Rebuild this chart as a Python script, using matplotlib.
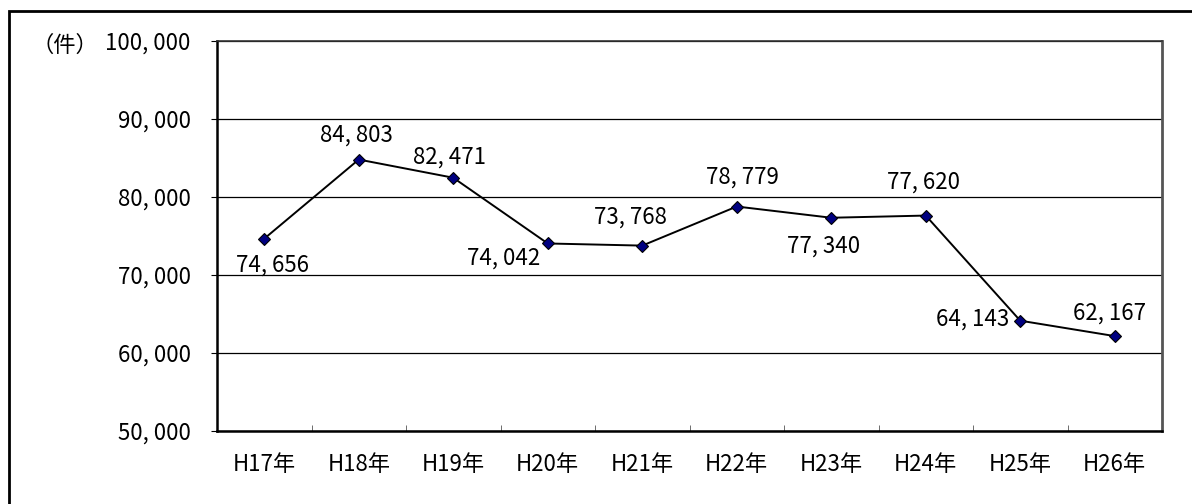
import matplotlib.pyplot as plt
from matplotlib.patches import Rectangle

plt.rcParams['font.family'] = ['Noto Sans CJK JP', 'DejaVu Sans']

# data
years = ['H17年', 'H18年', 'H19年', 'H20年', 'H21年', 'H22年', 'H23年', 'H24年', 'H25年', 'H26年']
counts = [74656, 84803, 82471, 74042, 73768, 78779, 77340, 77620, 64143, 62167]
y_ticks = [50000, 60000, 70000, 80000, 90000, 100000]

# label offsets in pixels (dx, dy up)
label_offsets = [(8, -26), (-2, 24), (-4, 21), (-44, -15), (-12, 29),
                 (6, 29), (-8, -28), (-2, 33), (-48, 2), (-5, 23)]

fig = plt.figure(figsize=(11.92, 5.04), dpi=100)
ax = fig.add_axes([217 / 1192, 1 - 431 / 504, 945 / 1192, 390 / 504])

# outer frame of the chart
fig.patches.append(Rectangle((9 / 1192, -0.1), 1.2, 1 - 11 / 504 + 0.1,
                             transform=fig.transFigure, fill=False,
                             edgecolor='black', linewidth=2))

x = list(range(len(years)))
ax.plot(x, counts, color='black', linewidth=1.4, marker='D', markersize=6,
        markerfacecolor='#000080', markeredgecolor='black', markeredgewidth=0.8, zorder=3)

for xi, v, (dx, dy) in zip(x, counts, label_offsets):
    ax.annotate(f'{v // 1000}, {v % 1000:03d}', (xi, v), xytext=(dx * 0.72, dy * 0.72),
                textcoords='offset points', ha='center', va='center', fontsize=16)

ax.set_xlim(-0.5, len(years) - 0.5)
ax.set_ylim(50000, 100000)
ax.set_yticks(y_ticks)
ax.set_yticklabels([f'{t // 1000}, 000' for t in y_ticks], fontsize=16)
ax.yaxis.grid(True, color='black', linewidth=0.9)
ax.set_axisbelow(True)
ax.tick_params(axis='y', length=4, pad=15, color='black')

ax.set_xticks([i + 0.5 for i in x[:-1]], minor=True)
ax.set_xticks(x)
ax.set_xticklabels(years, fontsize=16)
ax.tick_params(axis='x', which='major', length=0, pad=16)
ax.tick_params(axis='x', which='minor', direction='in', length=4, color='#555555')

for s in ['left', 'bottom']:
    ax.spines[s].set_linewidth(1.8)
    ax.spines[s].set_color('black')
ax.spines['top'].set_linewidth(1.2)
ax.spines['top'].set_color('#333333')
ax.spines['right'].set_linewidth(2)
ax.spines['right'].set_color('#555555')

fig.text(65 / 1192, 1 - 45 / 504, '（件）', fontsize=16, ha='center', va='center')

fig.savefig('out.png', dpi=100)
